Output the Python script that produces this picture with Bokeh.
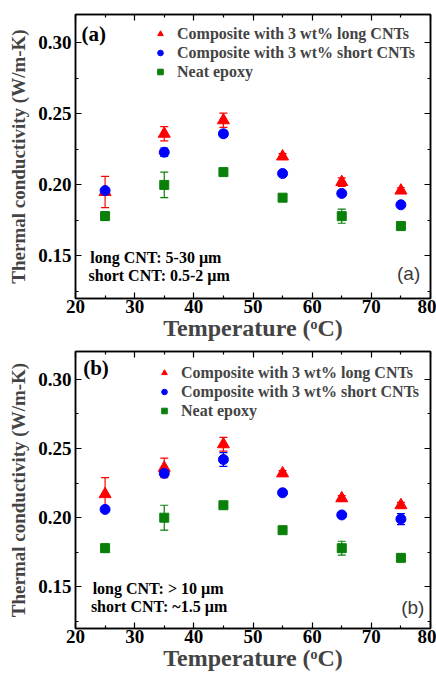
from bokeh.plotting import figure
from bokeh.layouts import column
from bokeh.models import (ColumnDataSource, Whisker, TeeHead, Legend, LegendItem, Label,
                          LinearAxis, FixedTicker, Range1d)
from bokeh.embed import file_html
from bokeh.resources import INLINE

temps = [25, 35, 45, 55, 65, 75]

# panel (a)
a_long = [0.195, 0.236, 0.2455, 0.220, 0.202, 0.196]
a_long_err = [0.011, 0.005, 0.005, 0.002, 0.003, 0.002]
a_short = [0.196, 0.223, 0.236, 0.208, 0.194, 0.186]
a_short_err = [0.002, 0.003, 0.002, 0.001, 0.002, 0.001]
# panel (b)
b_long = [0.217, 0.236, 0.253, 0.232, 0.214, 0.209]
b_long_err = [0.012, 0.007, 0.005, 0.002, 0.002, 0.002]
b_short = [0.206, 0.232, 0.242, 0.218, 0.202, 0.199]
b_short_err = [0.002, 0.002, 0.005, 0.001, 0.001, 0.004]
# neat epoxy (both panels)
neat = [0.178, 0.200, 0.209, 0.191, 0.178, 0.171]
neat_err = [0.003, 0.009, 0.001, 0.002, 0.005, 0.001]

x_ticks = [20, 30, 40, 50, 60, 70, 80]
x_minor = [25, 35, 45, 55, 65, 75]
y_ticks = [0.15, 0.20, 0.25, 0.30]
y_minor = [0.125, 0.175, 0.225, 0.275, 0.325]
y_tick_labels = {0.15: "0.15", 0.2: "0.20", 0.25: "0.25", 0.3: "0.30"}

series_labels = ["Composite with 3 wt% long CNTs", "Composite with 3 wt% short CNTs", "Neat epoxy"]
RED, BLUE, GREEN = "#ff0000", "#0000ff", "#0a800a"
SERIF = "Liberation Serif"


def style_axis(ax, is_x, show_labels):
    ticks = x_ticks if is_x else y_ticks
    ax.ticker = FixedTicker(ticks=ticks, minor_ticks=x_minor if is_x else y_minor)
    ax.major_tick_in = 6
    ax.major_tick_out = 0
    ax.minor_tick_in = 3
    ax.minor_tick_out = 0
    ax.axis_line_width = 1.5
    ax.major_tick_line_width = 1.2
    ax.minor_tick_line_width = 1.2
    ax.axis_line_color = "black"
    ax.major_label_text_font = SERIF
    ax.major_label_text_font_style = "bold"
    ax.major_label_text_font_size = "19px"
    ax.major_label_text_color = "black"
    if not show_labels:
        ax.major_label_overrides = {t: "" for t in ticks}
        ax.major_label_standoff = 0


def make_panel(tag, long_v, long_e, short_v, short_e, note1, note2, height, top, left, right,
               legend_loc, tag_pos, note_pos, corner_pos):
    p = figure(width=436, height=height, output_backend="svg", toolbar_location=None,
               x_range=Range1d(20, 80), y_range=Range1d(0.12, 0.32),
               min_border_left=left, min_border_right=right, min_border_top=top,
               min_border_bottom=10)
    p.xgrid.visible = False
    p.ygrid.visible = False
    p.outline_line_color = "black"
    p.outline_line_width = 1.5
    p.background_fill_color = "white"

    style_axis(p.xaxis[0], True, True)
    style_axis(p.yaxis[0], False, True)
    p.yaxis[0].major_label_overrides = y_tick_labels
    p.yaxis[0].major_label_standoff = 4
    p.xaxis[0].major_label_standoff = 1
    p.xaxis[0].axis_label = "Temperature (\u1d52C)"
    p.xaxis[0].axis_label_text_font = SERIF
    p.xaxis[0].axis_label_text_font_style = "bold"
    p.xaxis[0].axis_label_text_font_size = "24px"
    p.xaxis[0].axis_label_standoff = -1
    p.yaxis[0].axis_label = "Thermal conductivity (W/m-K)"
    p.yaxis[0].axis_label_text_font = SERIF
    p.yaxis[0].axis_label_text_font_style = "bold"
    p.yaxis[0].axis_label_text_font_size = "19px"
    p.yaxis[0].axis_label_standoff = 6

    top_ax = LinearAxis()
    right_ax = LinearAxis()
    style_axis(top_ax, True, False)
    style_axis(right_ax, False, False)
    p.add_layout(top_ax, "above")
    p.add_layout(right_ax, "right")

    renderers = []
    for vals, errs, color, marker, size in [
        (long_v, long_e, RED, "triangle", 12),
        (short_v, short_e, BLUE, "circle", 10),
        (neat, neat_err, GREEN, "square", 9),
    ]:
        src = ColumnDataSource(dict(x=temps, y=vals,
                                    lo=[v - e for v, e in zip(vals, errs)],
                                    hi=[v + e for v, e in zip(vals, errs)]))
        w = Whisker(base="x", lower="lo", upper="hi", source=src, level="underlay",
                    line_color=color, line_width=1.2,
                    upper_head=TeeHead(size=8, line_color=color, line_width=1.2),
                    lower_head=TeeHead(size=8, line_color=color, line_width=1.2))
        p.add_layout(w)
        r = p.scatter("x", "y", source=src, marker=marker, size=size,
                      fill_color=color, line_color=color)
        renderers.append(r)

    legend = Legend(items=[LegendItem(label=lab, renderers=[r]) for lab, r in zip(series_labels, renderers)],
                    location=legend_loc, padding=0, spacing=0, margin=0,
                    label_height=19, glyph_height=19, glyph_width=14, label_standoff=10,
                    label_text_font=SERIF, label_text_font_style="bold", label_text_font_size="16px",
                    border_line_color=None, background_fill_alpha=0)
    p.add_layout(legend)

    p.add_layout(Label(x=tag_pos[0], y=tag_pos[1], text="(" + tag + ")", text_font=SERIF,
                       text_font_style="bold", text_font_size="21px", text_baseline="middle",
                       text_color="black"))
    p.add_layout(Label(x=note_pos[0], y=note_pos[1], text=note1, text_font=SERIF,
                       text_font_style="bold", text_font_size="16px", text_baseline="middle",
                       text_color="black"))
    p.add_layout(Label(x=note_pos[2], y=note_pos[3], text=note2, text_font=SERIF,
                       text_font_style="bold", text_font_size="16px", text_baseline="middle",
                       text_color="black"))
    p.add_layout(Label(x=corner_pos[0], y=corner_pos[1], text="(" + tag + ")",
                       text_font="Liberation Sans", text_font_size="19px", text_baseline="middle",
                       text_align="center", text_color="#3a3a3a"))
    return p


pa = make_panel("a", a_long, a_long_err, a_short, a_short_err,
                "long CNT: 5-30 \u00b5m", "short CNT: 0.5-2 \u00b5m",
                height=343, top=14, left=75, right=6, legend_loc=(78, 217),
                tag_pos=(21.0, 0.3064), note_pos=(22.5, 0.1486, 22.2, 0.1365),
                corner_pos=(76.3, 0.1375))
pb = make_panel("b", b_long, b_long_err, b_short, b_short_err,
                "long CNT: > 10 \u00b5m", "short CNT: ~1.5 \u00b5m",
                height=330, top=8, left=73, right=3, legend_loc=(82, 208),
                tag_pos=(21.3, 0.308), note_pos=(22.9, 0.1486, 22.6, 0.1362),
                corner_pos=(77.0, 0.1355))

layout = column(pa, pb, spacing=0)
open("out.html", "w").write(file_html(layout, INLINE))
